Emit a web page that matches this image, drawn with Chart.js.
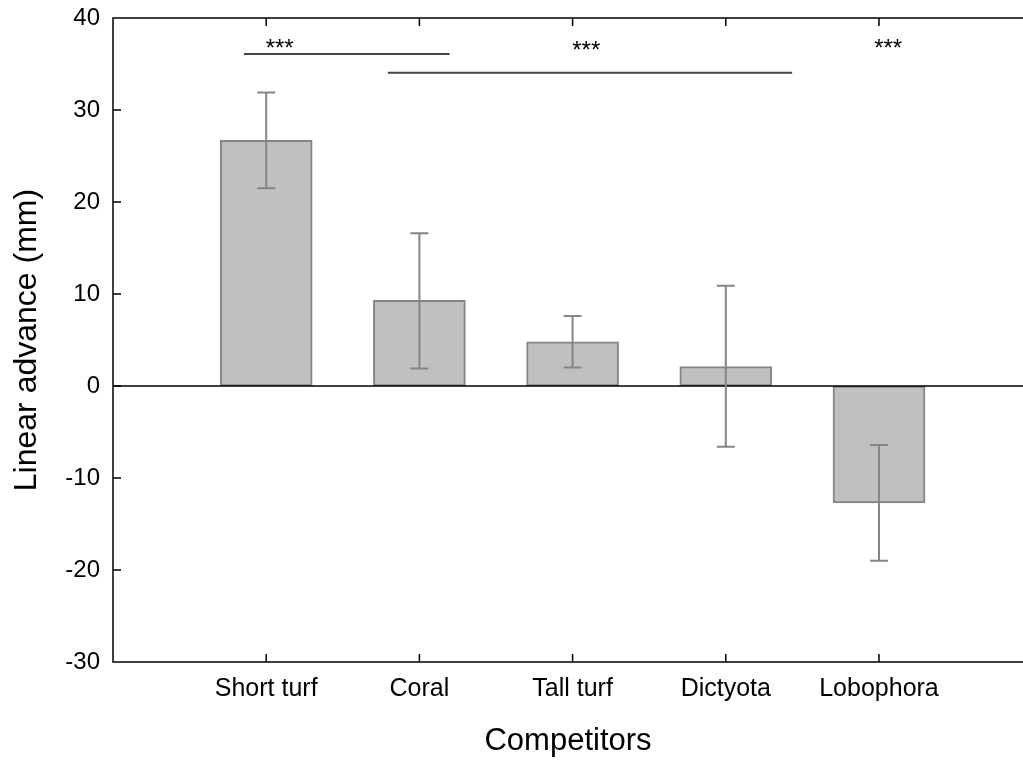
<!DOCTYPE html>
<html>
<head>
<meta charset="utf-8">
<script src="https://cdn.jsdelivr.net/npm/chart.js@4"></script>
<style>
  html, body { margin: 0; padding: 0; background: #fff; }
  #wrap { width: 1023px; height: 760px; }
</style>
</head>
<body>
<div id="wrap"><canvas id="advanceChart"></canvas></div>
<script>
// mean linear advance per competitor, with lower / upper error limits
const competitors = ['Short turf', 'Coral', 'Tall turf', 'Dictyota', 'Lobophora'];
const advance = [26.7, 9.3, 4.8, 2.1, -12.7];
const errLow = [21.5, 1.9, 2.0, -6.6, -19.0];
const errHigh = [31.9, 16.6, 7.6, 10.9, -6.4];
const yTicks = [-30, -20, -10, 0, 10, 20, 30, 40];

// significance brackets (x in category units, y in mm)
const sigLines = [[0.855, 2.197, 36.1], [1.794, 4.433, 34.05]];
const sigStars = [[1.088, '***', 38], [3.089, '***', 40], [5.06, '***', 38]];

const FONT = "'Liberation Sans', Arial, sans-serif";

const barData = competitors.map((c, i) => ({ x: i + 1, y: advance[i] }));

const decorations = {
    id: 'decorations',
    afterDatasetsDraw(chart) {
        const { ctx, chartArea: a, scales: { x, y } } = chart;
        ctx.save();

        // zero line
        ctx.strokeStyle = '#000';
        ctx.lineWidth = 1.5;
        ctx.beginPath();
        ctx.moveTo(a.left, y.getPixelForValue(0));
        ctx.lineTo(a.right, y.getPixelForValue(0));
        ctx.stroke();

        // error bars
        ctx.strokeStyle = '#858585';
        ctx.lineWidth = 2;
        competitors.forEach((c, i) => {
            const px = x.getPixelForValue(i + 1);
            const lo = y.getPixelForValue(errLow[i]);
            const hi = y.getPixelForValue(errHigh[i]);
            ctx.beginPath();
            ctx.moveTo(px, lo); ctx.lineTo(px, hi);
            ctx.moveTo(px - 9, lo); ctx.lineTo(px + 9, lo);
            ctx.moveTo(px - 9, hi); ctx.lineTo(px + 9, hi);
            ctx.stroke();
        });

        // significance lines and stars
        ctx.strokeStyle = '#444';
        ctx.lineWidth = 2;
        sigLines.forEach(([x1, x2, v]) => {
            const py = y.getPixelForValue(v);
            ctx.beginPath();
            ctx.moveTo(x.getPixelForValue(x1), py);
            ctx.lineTo(x.getPixelForValue(x2), py);
            ctx.stroke();
        });
        ctx.fillStyle = '#000';
        ctx.font = '24px ' + FONT;
        ctx.textAlign = 'center';
        ctx.textBaseline = 'alphabetic';
        sigStars.forEach(([sx, txt, dy]) => {
            ctx.fillText(txt, x.getPixelForValue(sx), a.top + dy);
        });

        // frame: left, top and bottom lines with inward ticks
        ctx.strokeStyle = '#000';
        ctx.lineWidth = 1.5;
        ctx.beginPath();
        ctx.moveTo(a.right, a.top); ctx.lineTo(a.left, a.top);
        ctx.lineTo(a.left, a.bottom); ctx.lineTo(a.right, a.bottom);
        yTicks.forEach(v => {
            const py = y.getPixelForValue(v);
            ctx.moveTo(a.left, py); ctx.lineTo(a.left + 8, py);
        });
        competitors.forEach((c, i) => {
            const px = x.getPixelForValue(i + 1);
            ctx.moveTo(px, a.bottom); ctx.lineTo(px, a.bottom - 8);
            ctx.moveTo(px, a.top); ctx.lineTo(px, a.top + 8);
        });
        ctx.stroke();
        ctx.restore();
    }
};

const config = {
    type: 'bar',
    data: {
        datasets: [{
            data: barData,
            backgroundColor: '#c0c0c0',
            borderColor: '#858585',
            borderWidth: 2,
            borderSkipped: false,
            barThickness: 92
        }]
    },
    options: {
        responsive: true,
        maintainAspectRatio: false,
        animation: false,
        layout: { padding: { top: 18, right: 0, left: 0, bottom: 0 } },
        plugins: {
            legend: { display: false },
            tooltip: { enabled: false }
        },
        scales: {
            x: {
                type: 'linear',
                min: 0,
                max: 5.94,
                offset: false,
                grid: { display: false, drawTicks: false, offset: false },
                border: { display: false },
                afterBuildTicks: scale => {
                    scale.ticks = competitors.map((c, i) => ({ value: i + 1 }));
                },
                afterFit: scale => {
                    scale.height = 98;
                    scale.paddingLeft = 0;
                    scale.paddingRight = 0;
                },
                ticks: {
                    autoSkip: false,
                    maxRotation: 0,
                    padding: 12,
                    color: '#000',
                    font: { family: FONT, size: 25 },
                    callback: v => competitors[v - 1]
                },
                title: {
                    display: true,
                    text: 'Competitors',
                    color: '#000',
                    font: { family: FONT, size: 31 },
                    padding: { top: 4, bottom: 0 }
                }
            },
            y: {
                min: -30,
                max: 40,
                grid: { display: false, drawTicks: false },
                border: { display: false },
                afterFit: scale => {
                    scale.width = 113;
                    scale.paddingTop = 0;
                    scale.paddingBottom = 0;
                },
                ticks: {
                    stepSize: 10,
                    padding: 13,
                    color: '#000',
                    font: { family: FONT, size: 24 }
                },
                title: {
                    display: true,
                    text: 'Linear advance (mm)',
                    color: '#000',
                    font: { family: FONT, size: 32 },
                    padding: { top: 8, bottom: 0 }
                }
            }
        }
    },
    plugins: [decorations]
};

const myChart = new Chart(document.getElementById('advanceChart'), config);
</script>
</body>
</html>
